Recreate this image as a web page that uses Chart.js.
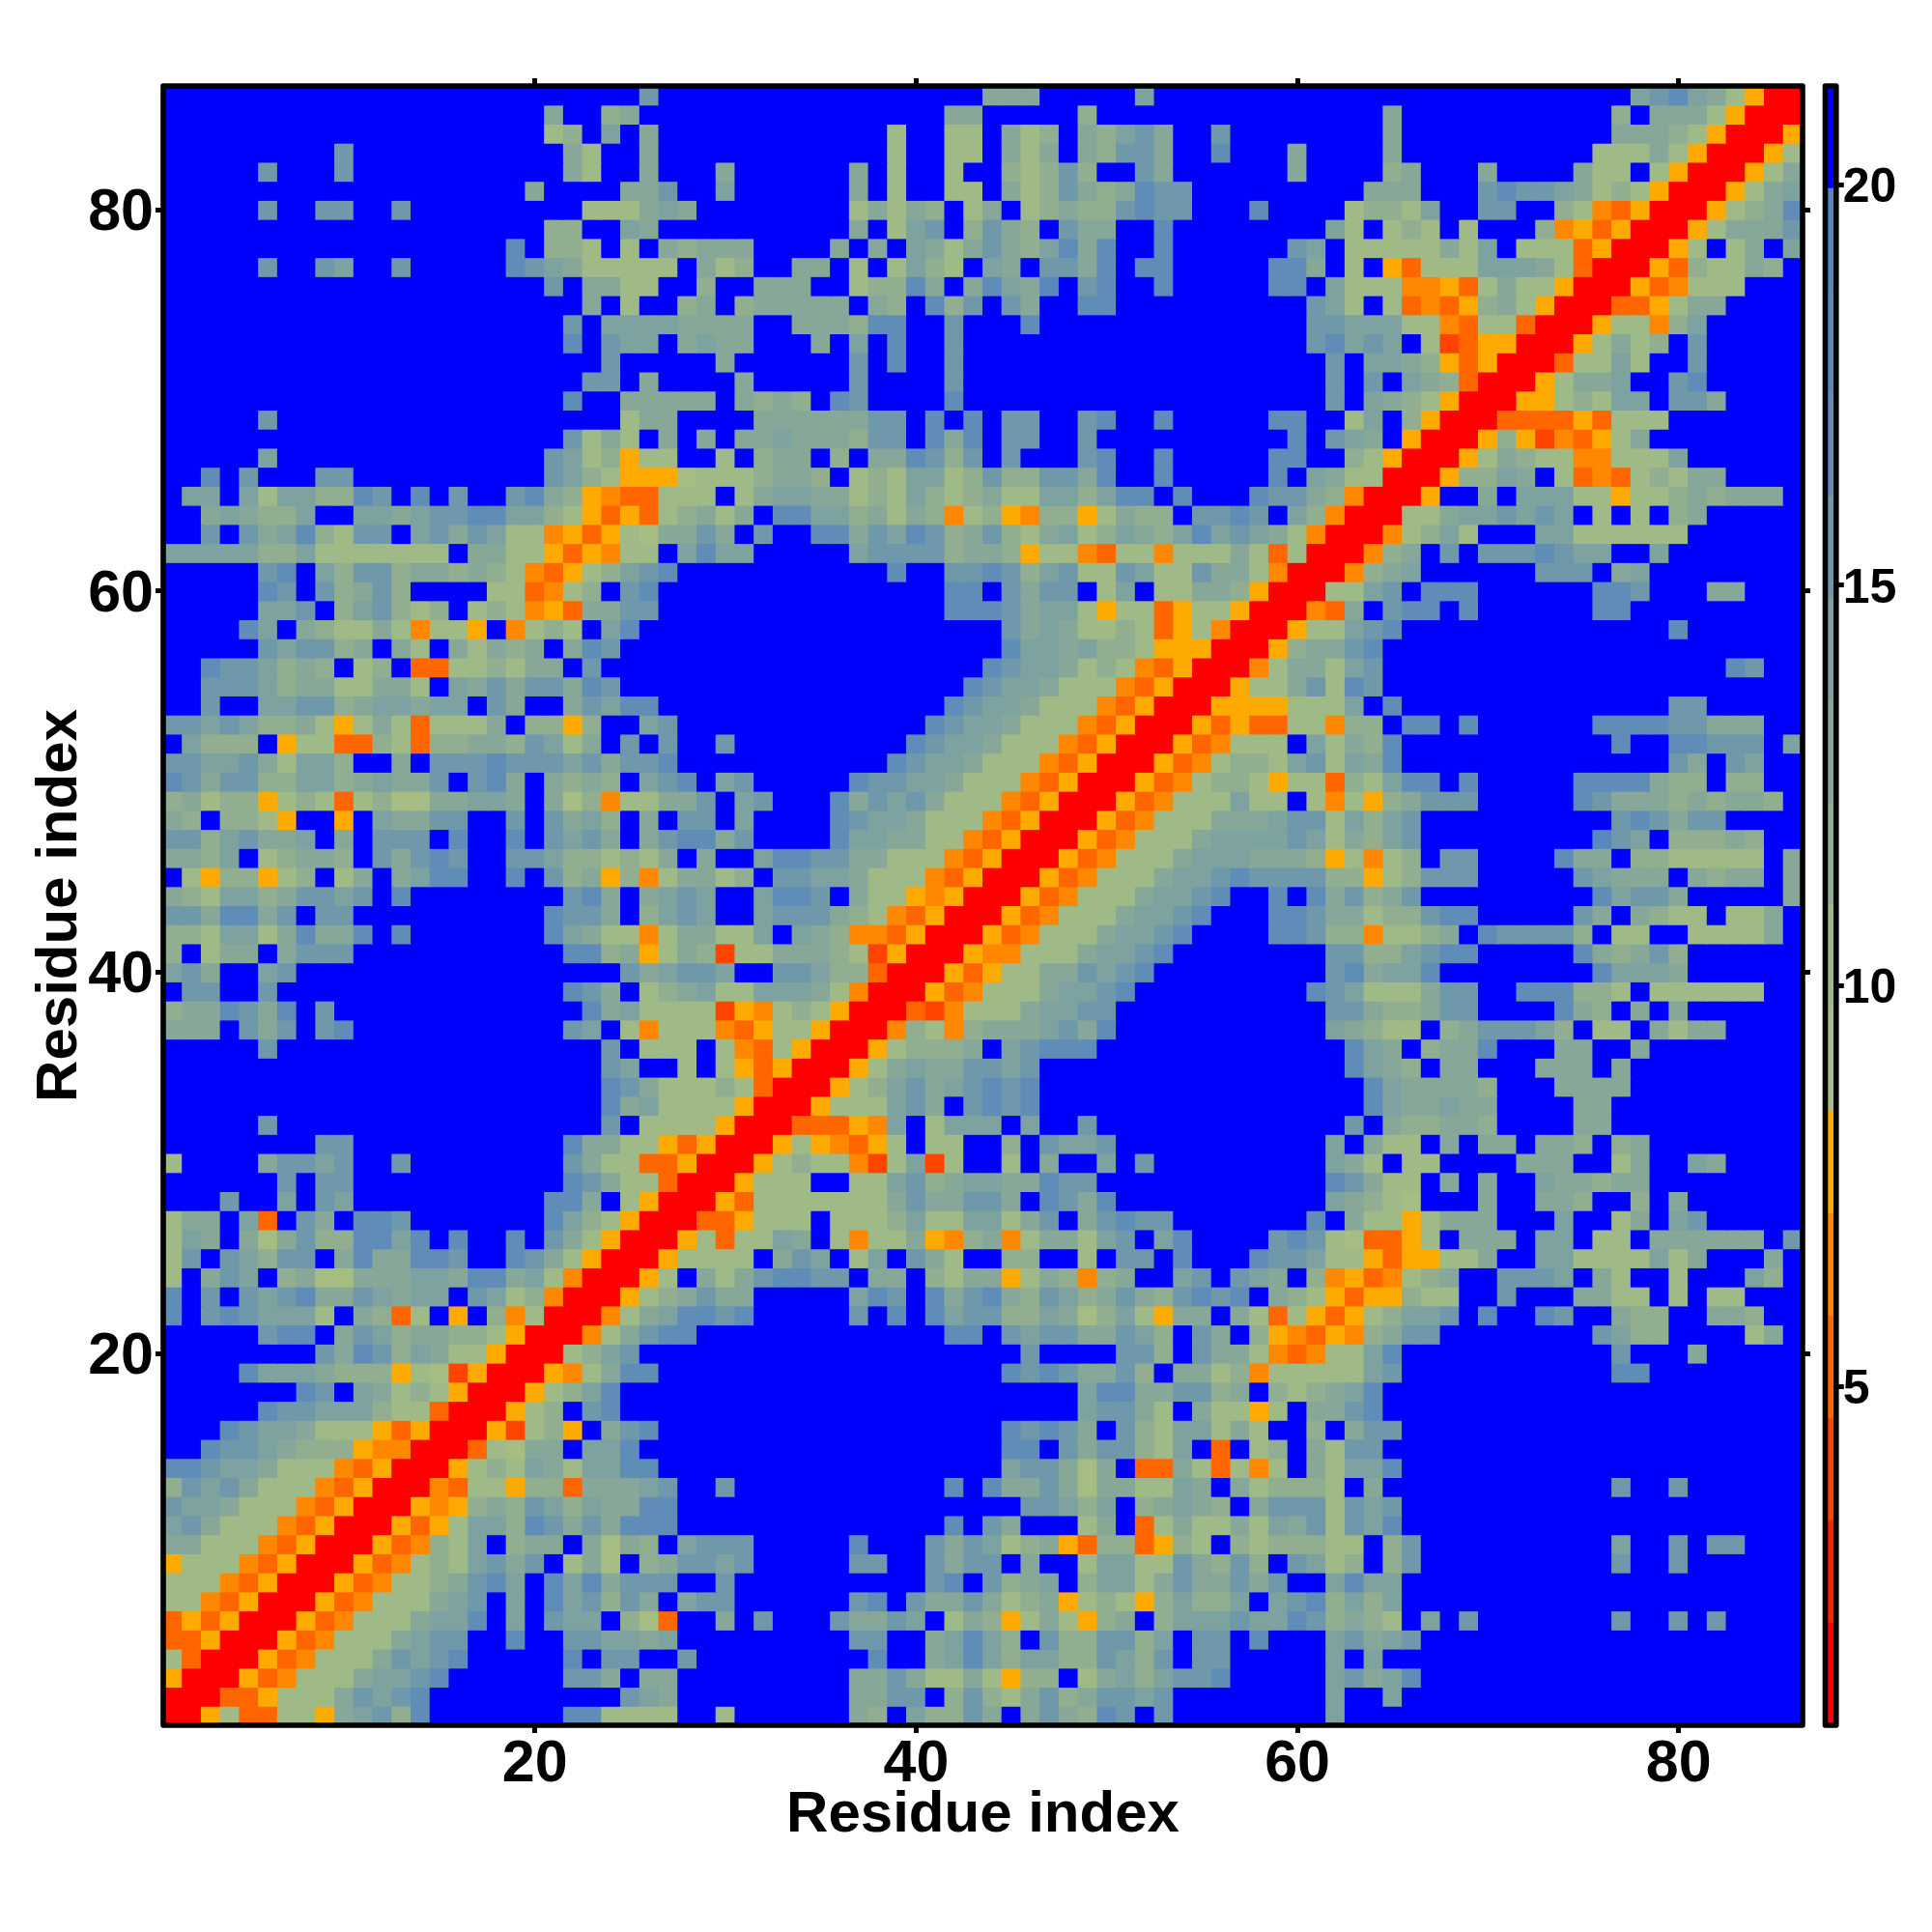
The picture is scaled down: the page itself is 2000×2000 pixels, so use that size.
<!DOCTYPE html>
<html>
<head>
<meta charset="utf-8">
<title>Residue distance map</title>
<script src="https://cdn.jsdelivr.net/npm/chart.js@4"></script>
<style>
  html, body { margin: 0; padding: 0; background: #fff; }
  canvas { position: absolute; top: 0; }
  #map { left: 0; }
  #scale { left: 1870px; }
</style>
</head>
<body>
<canvas id="map" width="2000" height="2000"></canvas>
<canvas id="scale" width="130" height="2000"></canvas>
<script>
const residueCount = 86;
const axisTicks = [20, 40, 60, 80];
const axisTitle = 'Residue index';
const colorTicks = [5, 10, 15, 20];

// colour bar steps (one more edge than there are colours)
const levelEdges = [0.77, 2.05, 3.33, 4.61, 5.88, 7.16, 8.44, 9.72, 11.0, 12.28, 13.55, 14.83, 16.11, 17.39, 18.67, 19.95, 21.23];
const levelColors = ['#ff0000', '#ff2200', '#ff4400', '#ff6600', '#ff8800', '#ffaa00',
  '#a5bd82', '#a0ba87', '#92ae90', '#87a798', '#7da29f', '#6f98aa', '#5f8db7', '#5888bc', '#5585c0', '#0000ff'];

// Map rows from residue 86 down to 1, lower triangle only (the map is symmetric).
// "col:chars" = level of consecutive cells from that column, hex 1..f; anything unlisted is the far blue level.
const mapRows = [
  '26:c 44:aaa 52:b 78:bcdba8611',
  '21:a 24:9a 42:aa 49:9 65:a 77:9 79:aaa8611',
  '21:89 24:b 26:a 39:8 42:88 45:a89 49:a9bca 56:c 65:a 77:aaa98611',
  '10:c 22:a8 26:a 39:8 42:88 45:a8a 49:a9cca 56:d 60:a 65:a 76:888a8611',
  '6:c 10:c 22:a8 26:a 30:a 37:a 39:8 42:8 45:989c9 52:ca 60:a 65:9a 70:a 75:a88 79:8611',
  '20:a 25:aac 30:b 37:a 39:8 42:88 45:a89ca9adcc 64:aaa 70:cdccba898611',
  '6:c 9:cc 13:c 23:888aba 37:8a8a9 43:8a 46:89a99cdcc 58:d 63:8998b 70:cc 74:9854611',
  '21:99 25:ba 37:a 39:8bc 43:9ca9 48:caa 53:d 62:b8 65:898 69:8 73:9564611',
  '19:d 21:998 25:8 27:a9aaa 36:a 38:a 40:ba8aca9bdad 53:d 60:cb 63:88888a8b 72:8884611',
  '6:c 9:cb 13:c 19:dcba88888 29:a89 34:aa 37:8 39:8b98 44:ba 47:ccad 52:dd 59:dda 63:8 65:64888bbba8411',
  '21:c 23:aa88 29:9 32:aaa 37:899da 43:adbae 49:cd 53:d 59:dd 62:b88855648a88611',
  '23:a 25:8 28:9a 31:9aaaaa 38:a9 41:d9c 45:ca 49:dd 61:cb8 65:845469a8611',
  '22:c 24:bbbbaaaa 34:aaa9dd 42:c 46:d 61:ccbbb885488411',
  '22:d 24:cbb 28:abaa 35:a 37:b 39:d 42:c 61:cdbcb 67:8346611',
  '24:c 30:a 37:c 39:d 42:c 62:c 64:bba964611',
  '23:cc 26:a 31:a 37:c 42:c 62:c 64:c 66:ba9411',
  '22:d 25:aaaaa 31:a9a9 36:dc 42:d 62:c 64:ba98611',
  '6:c 25:8aa 32:aaaaaacc 41:d 43:d 45:cc 49:cd 53:d 59:dd 63:8b 66:9611',
  '22:c8a8 27:a 29:a 31:aabaaa9cc 41:dad 45:cc 49:c 60:d 62:cba 66:611',
  '6:b 21:cb89688 30:8 32:9aa 36:9 38:aadc9c 45:c 49:cd 53:d 59:dd 63:98611',
  '3:d 5:c 9:cc 21:cb9866678889aa9 37:898bb89c99ccad 53:d 59:d 61:ba8811',
  '2:bb 5:b8bb99dc 14:d 16:c 19:cda96544888 31:8abbaa898b989a88bb9bdd 54:d 58:dcca9511',
  '3:aba99b 11:bbabccddbb98646489a8a 33:ddbb9a8a9589659968a99 55:ccdc 60:b9511',
  '3:c 5:cabd98cc 14:bcacb88564687aaca 32:c 35:ddacbdc9ac98ab89ba9bdbcba8511',
  '1:bbbbb99b8888888 17:aa88646588 28:bdbb 37:bcccc9aa968854885888a84811',
  '6:cd 9:b9cc9aa9a9854689bcd 39:d 42:ccdc9bc88cb88caa8511',
  '6:dc 9:c9ac9 18:884589 25:cd 42:dd 45:cacc 50:8b 53:88aa9611',
  '6:bbc 10:9bc989 17:898564aacc 42:dddcabb86884688611',
  '5:db 8:a988a85886 19:5898 24:bd 45:caba8898468511',
  '6:cbcc9a 13:a8 16:a8a9a 22:adc 45:dbbab99866611',
  '3:dccb9a9 11:89 14:448898aa 23:c 44:dcbba89854611',
  '3:cccb9aa88aa8 16:bacaccadc 43:dcbba88854611',
  '3:c 6:bbcc9abbabb 18:ca 22:acbdd 42:dcbba88854611',
  '1:ccbcb99a868a84888a 20:9969 26:bc 41:dcbba88854611',
  '2:b999 7:6884498499aa9cb8a 25:c 27:c 30:c 40:dcbba88854611',
  '1:ccbbca8bb9 13:a 15:cccdcccbcaccd 39:dcbba88854611',
  '1:dcacc99bb9abaac 17:cda 21:a9a9 26:bcd 30:bc 37:dccbba88854611',
  '1:9a899689848977aabba 21:a79588aac 31:bc 36:dacbca88854611',
  '1:a9 4:9986 10:6 12:baacc 19:c 21:cab9 26:a 28:cc 31:b 36:dcbba88854611',
  '1:cc9bcaab 10:a 12:ccc 16:d 19:d 21:cbca 26:acddac 36:dbbaa8854611',
  '1:aa9b 6:89aa9 12:cacdc 19:ccb99898a 29:a 32:bddccaa88854611',
  '2:8699689 10:8a 13:abdd 19:d 21:c9a6958aa89 33:ccbba88854611',
  '1:a98bb9accbc 13:d 22:cda 26:abcb 32:bddc 37:a8865611',
  '1:ccaddac 9:cc 21:dcca 26:9bcb 32:bccca9854611',
  '1:998bb8adaad 13:d 21:dba8858aa88b 34:ba9554611',
  '1:9 3:8aa 7:accc 22:dd9a68a9388aaa983611',
  '1:bca 6:bc 25:cabccb 33:ccb99411',
  '2:cc 6:c 22:dca 26:89ab88bbba8511',
  '1:9aadcad 9:c 23:dab8888365898611',
  '1:aaa 5:cac 9:cd 22:cb 25:8588854688611',
  '6:c 24:c 26:888 30:8548611',
  '24:cb 28:8 30:864611',
  '24:dca88898411',
  '24:dab8888611',
  '6:c 24:c 26:8888611',
  '9:cc 22:daa8864611',
  '1:8 6:accbc 13:c 22:ca8844611',
  '7:c 9:cc 22:dca88411',
  '4:c 7:b 9:cb 21:dda 25:8611',
  '1:8aa 5:b4 8:ca 11:ddc 21:db98611',
  '1:8ba 5:a7ac99ddbd 16:d 19:d 21:ca8611',
  '1:8c 4:cb9cc 10:adaaddc 19:dca8611',
  '1:8 3:acb 7:9a77aaabbaddab8511',
  '1:d 3:c 5:cbcdaacbabb 17:cb89511',
  '1:d 3:cdcbbb8 11:a948 16:6 18:95811',
  '6:cdd 10:acb9aa998611',
  '9:cadc9ba88611',
  '5:dbbba9996873611',
  '8:dc 11:ba898611',
  '6:dccbbb988411',
  '4:dcbba88864611',
  '3:dccba99965511',
  '1:ddcbba88854611',
  '1:9cbca88854611',
  '1:cbba88854611',
  '1:bca88854611',
  '1:aa88854611',
  '1:688854611',
  '1:88854611',
  '1:8854611',
  '1:464611',
  '1:44611',
  '1:8411',
  '1:611',
  '1:11',
  '1:1'
];

// level number -> middle of its step on the bar
const farLevel = levelColors.length;
const levelValue = (lv) => (levelEdges[lv - 1] + levelEdges[lv]) / 2;

function buildCells() {
  const levels = {};
  mapRows.forEach((row, idx) => {
    const y = residueCount - idx;
    row.split(' ').forEach((part) => {
      const [start, chars] = part.split(':');
      chars.split('').forEach((ch, k) => {
        const x = Number(start) + k;
        const lv = parseInt(ch, 16);
        levels[x + '_' + y] = lv;
        levels[y + '_' + x] = lv;
      });
    });
  });
  const points = [];
  const colors = [];
  for (let y = 1; y <= residueCount; y++) {
    for (let x = 1; x <= residueCount; x++) {
      const lv = levels[x + '_' + y] || farLevel;
      points.push({ x, y, v: levelValue(lv) });
      colors.push(levelColors[lv - 1]);
    }
  }
  return { points, colors };
}

const boldFont = (size) => ({ family: '"Liberation Sans", Arial, sans-serif', size, weight: 'bold' });

// heavy black box around a plot, round corners like the original
const framePlugin = {
  id: 'frame',
  afterDatasetsDraw(chart) {
    const { ctx, chartArea: a } = chart;
    ctx.save();
    ctx.strokeStyle = '#000';
    ctx.lineWidth = 5.6;
    ctx.lineJoin = 'round';
    ctx.strokeRect(a.left, a.top, a.right - a.left, a.bottom - a.top);
    ctx.restore();
  }
};

function fixedTicks(values) {
  return (scale) => { scale.ticks = values.map((value) => ({ value })); };
}

function mapAxis(position, size, showText) {
  const vertical = position === 'left' || position === 'right';
  return {
    type: 'linear',
    position,
    min: 0.5,
    max: residueCount + 0.5,
    afterBuildTicks: fixedTicks(axisTicks),
    afterFit: (scale) => { if (vertical) scale.width = size; else scale.height = size; },
    border: { display: false },
    grid: { drawOnChartArea: false, drawTicks: true, tickLength: 8, tickWidth: 5, tickColor: '#000' },
    ticks: {
      display: showText,
      color: '#000',
      font: boldFont(61),
      padding: vertical ? 2 : -3,
      labelOffset: vertical ? 4 : 0,
      maxRotation: 0,
      autoSkip: false
    },
    title: showText ? {
      display: true,
      text: axisTitle,
      color: '#000',
      font: boldFont(60),
      padding: position === 'left' ? { top: 26, bottom: 0 } : { top: 0, bottom: 85 }
    } : { display: false }
  };
}

const cells = buildCells();

new Chart(document.getElementById('map'), {
  type: 'scatter',
  data: {
    datasets: [{
      data: cells.points,
      backgroundColor: cells.colors,
      pointStyle: 'rect',
      // a little over one cell so antialiased edges leave no seam
      pointRadius: 14.7,
      pointHoverRadius: 14.7,
      borderWidth: 0,
      showLine: false
    }]
  },
  options: {
    responsive: false,
    animation: false,
    events: [],
    layout: { padding: 0 },
    plugins: { legend: { display: false }, tooltip: { enabled: false } },
    scales: {
      x: mapAxis('bottom', 214, true),
      y: mapAxis('left', 169, true),
      xTop: mapAxis('top', 89, false),
      yRight: mapAxis('right', 134, false)
    }
  },
  plugins: [framePlugin]
});

new Chart(document.getElementById('scale'), {
  type: 'bar',
  data: {
    labels: ['level'],
    datasets: levelColors.map((color, i) => ({
      data: [[levelEdges[i], levelEdges[i + 1]]],
      backgroundColor: color,
      borderWidth: 0,
      barPercentage: 1,
      categoryPercentage: 1,
      grouped: false
    }))
  },
  options: {
    responsive: false,
    animation: false,
    events: [],
    layout: { padding: { top: 89, bottom: 214, left: 19.5 } },
    plugins: { legend: { display: false }, tooltip: { enabled: false } },
    scales: {
      x: { display: false },
      y: {
        position: 'right',
        min: levelEdges[0],
        max: levelEdges[levelEdges.length - 1],
        afterBuildTicks: fixedTicks(colorTicks),
        afterFit: (scale) => { scale.width = 99.2; },
        border: { display: false },
        grid: { drawOnChartArea: false, drawTicks: true, tickLength: 8, tickWidth: 5, tickColor: '#000' },
        ticks: { color: '#000', font: boldFont(50), padding: -1, labelOffset: 4, autoSkip: false }
      }
    }
  },
  plugins: [framePlugin]
});
</script>
</body>
</html>
